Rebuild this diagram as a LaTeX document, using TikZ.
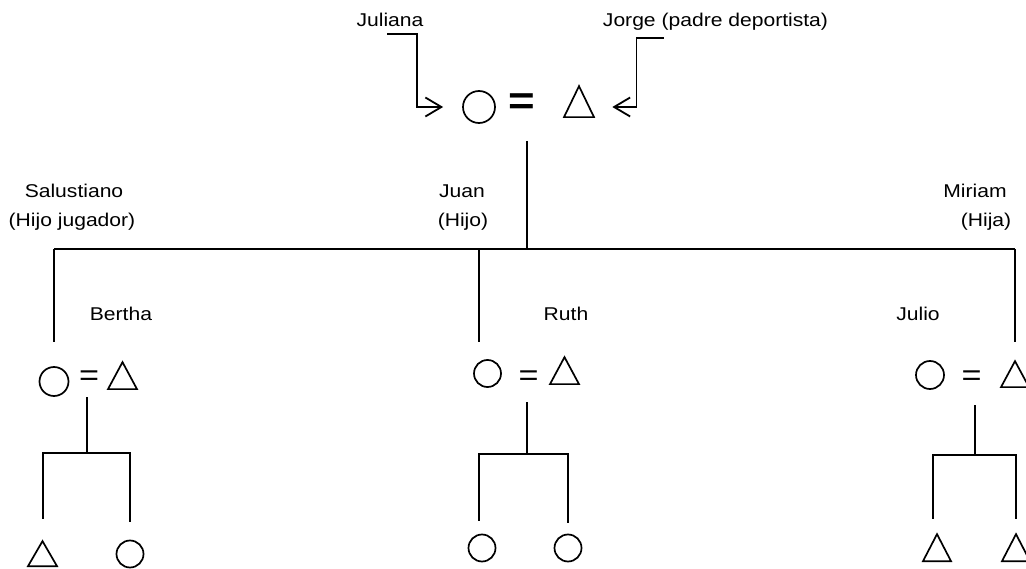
\documentclass[tikz,border=0pt]{standalone}
\usepackage{fontspec}
\usetikzlibrary{shapes.geometric,arrows.meta,calc}
\setmainfont{Liberation Sans}[FakeStretch=1.14]

\tikzset{
    fem/.style={circle, draw, line width=1.7pt, inner sep=0pt, minimum size=#1},
    fem/.default=28pt,
    mas/.style={isosceles triangle, isosceles triangle stretches,
        shape border rotate=90, draw, line width=1.7pt, inner sep=0pt,
        minimum width=29pt, minimum height=27pt, anchor=lower side},
    eqs/.style={inner sep=0pt, anchor=base, font=\fontsize{30}{30}\selectfont},
    lbl/.style={inner sep=0pt, anchor=base, font=\fontsize{18.5}{22}\selectfont},
    arr/.style={line width=1.8pt, -{Straight Barb[length=16pt,width=19pt]}}
}

\begin{document}
\begin{tikzpicture}[x=1pt, y=-1pt, line width=2pt]
    \useasboundingbox (0,0) rectangle (1026,569);
    % abuelos
    \node[fem=32pt] (C0) at (479,107) {};
    \node[eqs, font=\fontsize{40}{40}\selectfont\bfseries] (E0) at (522,115) {=};
    \node[mas, minimum width=30pt, minimum height=31pt] (T0) at (579,118) {};
    \node[lbl] (A) at (390,27) {Juliana};
    \node[lbl] (B) at (715.5,27) {Jorge (padre deportista)};
    \draw[arr] (A.south) ++(-3,6) -- ++(30,0) |- ($(C0.west)+(-19,0)$);
    \draw[arr] (B.south) ++(-52,6) -- ++(-27,0) |- ($(T0.right corner |- C0.center)+(17,0)$);
    % hijos
    \coordinate (H0) at (527,249);
    \node[lbl] (A1) at (74,198) {Salustiano};
    \node[lbl] (A2) at (72,227) {(Hijo jugador)};
    \node[lbl] (B1) at (462,198) {Juan};
    \node[lbl] (B2) at (463,227) {(Hijo)};
    \node[lbl] (C1) at (975,198) {Miriam};
    \node[lbl] (C2) at (986,227) {(Hija)};
    \node[lbl] (A3) at (121,321) {Bertha};
    \node[lbl] (B3) at (566,321) {Ruth};
    \node[lbl] (C3) at (918,321) {Julio};
    \node[fem=29pt] (C1a) at (54,381.5) {};
    \node[eqs] (E1) at (89,386) {=};
    \node[mas] (T1) at (122.5,390) {};
    \node[fem=27pt] (C2a) at (487.5,373.5) {};
    \node[eqs] (E2) at (528.5,386) {=};
    \node[mas] (T2) at (564.5,385) {};
    \node[fem] (C3a) at (930,375) {};
    \node[eqs] (E3) at (971.5,386) {=};
    \node[mas, minimum width=28pt, minimum height=26pt] (T3) at (1015,388) {};
    \draw (E0.south) ++(5,25) -- (H0);
    \draw (H0 -| C1a) -- (H0 -| T3.apex);
    \draw (H0 -| C1a) -- ++(0,93);
    \draw ($(H0 -| C2a)+(-8.5,0)$) -- ++(0,93);
    \draw (H0 -| T3.apex) -- ++(0,93);
    % nietos
    \coordinate (H1) at (87,453);
    \coordinate (H2) at (527,454);
    \coordinate (H3) at (975,455);
    \node[mas, minimum height=25pt] (K1) at (42.5,567) {};
    \node[fem=27pt] (K2) at (130,554) {};
    \node[fem=27pt] (K3) at (482,548) {};
    \node[fem=27pt] (K4) at (568,548) {};
    \node[mas, minimum width=28pt] (K5) at (937,562) {};
    \node[mas, minimum width=28pt] (K6) at (1016,562) {};
    \draw (H1) -- ++(0,-56);
    \draw ([yshift=20pt]K1.apex) |- (H1) -| ([yshift=18pt]K2.north);
    \draw (H2) -- ++(0,-52);
    \draw ([yshift=13pt]K3.north -| H0.west) ++(-48,0) |- (H2) -| ([yshift=11pt]K4.north);
    \draw (H3) -- ++(0,-50);
    \draw ([yshift=13pt]K5.apex) ++(-4,0) |- (H3) -| ([yshift=13pt]K6.apex) ++(2,0);
\end{tikzpicture}
\end{document}
